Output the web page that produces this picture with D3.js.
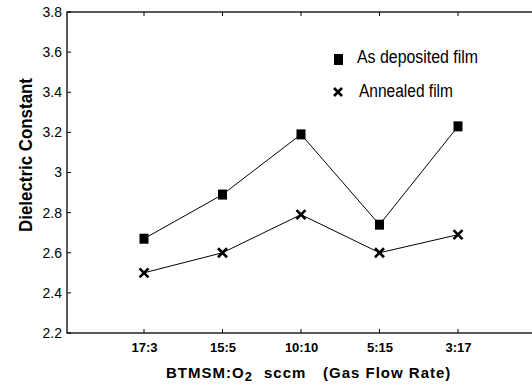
<!DOCTYPE html>
<html><head><meta charset="utf-8">
<script src="https://cdn.jsdelivr.net/npm/d3@7"></script>
<style>body{margin:0;background:#fff}svg{display:block}</style>
</head><body>
<svg id="c" width="532" height="387"></svg>
<script>
const categories = ["17:3","15:5","10:10","5:15","3:17"];
const asDeposited = [2.67, 2.89, 3.19, 2.74, 3.23];
const annealed = [2.50, 2.60, 2.79, 2.60, 2.69];
const yTicks = [2.2, 2.4, 2.6, 2.8, 3.0, 3.2, 3.4, 3.6, 3.8];
const seriesNames = ["As deposited film", "Annealed film"];

const svg = d3.select("#c");
const L = 67, R = 536, T = 12, B = 333;
const x = d3.scalePoint().domain(categories).range([144, 458]);
const y = d3.scaleLinear().domain([2.2, 3.8]).range([B, T]);
const font = "'Liberation Sans', Arial, sans-serif";

// frame
svg.append("rect").attr("x", L).attr("y", T).attr("width", R - L).attr("height", B - T)
  .attr("fill", "none").attr("stroke", "#000").attr("stroke-width", 1.3);

// left axis
const gy = svg.append("g").attr("transform", `translate(${L},0)`)
  .call(d3.axisLeft(y).tickValues(yTicks).tickSize(0).tickPadding(5).tickFormat(d => d3.format("")(+d.toFixed(1))));
gy.select(".domain").remove();
gy.selectAll("text").attr("font-family", font).attr("font-size", 14).attr("fill", "#000");
svg.append("g").selectAll("line").data(yTicks).join("line")
  .attr("x1", L).attr("x2", L + 4).attr("y1", d => y(d)).attr("y2", d => y(d)).attr("stroke", "#000");
svg.append("g").selectAll("line").data(yTicks).join("line")
  .attr("x1", R).attr("x2", R - 4).attr("y1", d => y(d)).attr("y2", d => y(d)).attr("stroke", "#000");

// bottom axis
const gx = svg.append("g").attr("transform", `translate(0,${B})`)
  .call(d3.axisBottom(x).tickSize(0).tickPadding(10));
gx.select(".domain").remove();
gx.selectAll("text").attr("font-family", font).attr("font-size", 13).attr("font-weight", "bold").attr("fill", "#000");
svg.append("g").selectAll("line").data(categories).join("line")
  .attr("x1", d => x(d)).attr("x2", d => x(d)).attr("y1", B).attr("y2", B - 4).attr("stroke", "#000");
svg.append("g").selectAll("line").data(categories).join("line")
  .attr("x1", d => x(d)).attr("x2", d => x(d)).attr("y1", T).attr("y2", T + 4).attr("stroke", "#000");

// x axis title
const xt = svg.append("g").attr("font-family", font).attr("font-size", 15).attr("font-weight", "bold").attr("letter-spacing", 1);
const t1 = xt.append("text").attr("x", 166).attr("y", 378);
t1.append("tspan").text("BTMSM:O");
t1.append("tspan").attr("font-size", 13).attr("dy", 3).text("2");
xt.append("text").attr("x", 264).attr("y", 378).text("sccm");
xt.append("text").attr("x", 323).attr("y", 378).text("(Gas Flow Rate)");

// y axis title
svg.append("text").attr("transform", "translate(32,155) rotate(-90)").attr("text-anchor", "middle")
  .attr("font-family", font).attr("font-size", 18).attr("font-weight", "bold")
  .attr("textLength", 154).attr("lengthAdjust", "spacingAndGlyphs").text("Dielectric Constant");

// lines
const line = d3.line().x((d, i) => x(categories[i])).y(d => y(d));
svg.append("path").datum(asDeposited).attr("d", line).attr("fill", "none").attr("stroke", "#000").attr("stroke-width", 1);
svg.append("path").datum(annealed).attr("d", line).attr("fill", "none").attr("stroke", "#000").attr("stroke-width", 1);

// markers
const sw = 9, sh = 10;
svg.append("g").selectAll("rect").data(asDeposited).join("rect")
  .attr("x", (d, i) => x(categories[i]) - sw / 2).attr("y", d => y(d) - sh / 2)
  .attr("width", sw).attr("height", sh).attr("fill", "#000");
const cross = (g, cx, cy, h) => {
  g.append("path").attr("d", `M${cx - h},${cy - h}L${cx + h},${cy + h}M${cx - h},${cy + h}L${cx + h},${cy - h}`)
    .attr("stroke", "#000").attr("stroke-width", 2.6).attr("fill", "none");
};
const gc = svg.append("g");
annealed.forEach((d, i) => cross(gc, x(categories[i]), y(d), 4.5));

// legend
svg.append("rect").attr("x", 334).attr("y", 54).attr("width", sw).attr("height", 11).attr("fill", "#000");
cross(svg, 338, 92, 4);
svg.append("text").attr("x", 357).attr("y", 63).attr("font-family", font).attr("font-size", 18)
  .attr("textLength", 121).attr("lengthAdjust", "spacingAndGlyphs").text(seriesNames[0]);
svg.append("text").attr("x", 359).attr("y", 97).attr("font-family", font).attr("font-size", 18)
  .attr("textLength", 94).attr("lengthAdjust", "spacingAndGlyphs").text(seriesNames[1]);
</script>
</body></html>
